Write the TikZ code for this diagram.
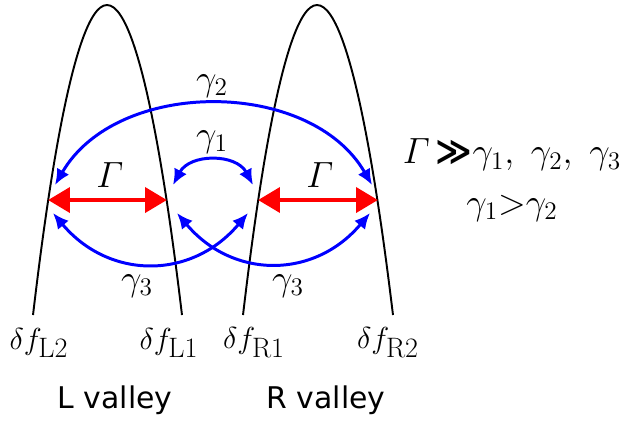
\documentclass[tikz,border=0pt]{standalone}
\usepackage{amsmath}
\usepackage{fontspec}
\newfontfamily\dejavu{DejaVu Sans}
\usetikzlibrary{arrows.meta}
\definecolor{cRate}{HTML}{0000FF}
\definecolor{cFast}{HTML}{FF0000}

\begin{document}
\begin{tikzpicture}[x=0.02cm,y=0.02cm,
  band/.style={black,line width=1.1pt},
  fast/.style={cFast,line width=2.8pt,
    {Triangle[length=12.5pt,width=14pt]}-{Triangle[length=12.5pt,width=14pt]}},
  slow/.style={cRate,line width=1.7pt,
    {Latex[length=9pt,width=8pt]}-{Latex[length=9pt,width=8pt]}},
  lab/.style={inner sep=1pt,font=\fontsize{20}{24}\selectfont},
  lev/.style={inner sep=1pt,font=\fontsize{16}{19}\selectfont},
  vname/.style={inner sep=1pt,font=\dejavu\fontsize{17}{20}\selectfont}]
\useasboundingbox (0,0) rectangle (621,424);

% --- the two valleys ---
\draw[band] (33,109) parabola bend (107,419) (182,109);
\draw[band] (243,109) parabola bend (317,419) (393,109);

% --- end points on the bands ---
\coordinate (fL2) at (48,224);  \coordinate (fL1) at (167,224);
\coordinate (fR1) at (258,224); \coordinate (fR2) at (378,224);
\coordinate (uL2) at (55,239);  \coordinate (uL1) at (173,239);
\coordinate (uR1) at (253,239); \coordinate (uR2) at (372,239);
\coordinate (dL2) at (53,211);  \coordinate (dL1) at (177,211);
\coordinate (dR1) at (248,211); \coordinate (dR2) at (370,211);

% --- intra-valley (fast) ---
\draw[fast] (fL2) -- (fL1);
\draw[fast] (fR1) -- (fR2);
\node[lab] (GL) at (110,249) {$\varGamma$};
\node[lab] (GR) at (320,249) {$\varGamma$};

% --- inter-valley (slow) ---
\draw[slow] (uL2) to[bend left=60] (uR2);
\draw[slow] (uL1) to[bend left=62,looseness=1.15] (uR1);
\draw[slow] (dL2) to[bend right=50,looseness=1.15] (dR1);
\draw[slow] (dL1) to[bend right=50,looseness=1.15] (dR2);
\node[lab] (g2) at (212,338) {$\gamma_2$};
\node[lab] (g1) at (212,282) {$\gamma_1$};
\node[lab] (g3a) at (137,138) {$\gamma_3$};
\node[lab] (g3b) at (288,138) {$\gamma_3$};

% --- level names ---
\node[lev] (nL2) at (39,81)  {$\delta f_{\textstyle\mathrm{L2}}$};
\node[lev] (nL1) at (169,81) {$\delta f_{\textstyle\mathrm{L1}}$};
\node[lev] (nR1) at (254,81) {$\delta f_{\textstyle\mathrm{R1}}$};
\node[lev] (nR2) at (388,81) {$\delta f_{\textstyle\mathrm{R2}}$};
\node[vname] (vL) at (115,24) {L valley};
\node[vname] (vR) at (326,24) {R valley};

% --- relations ---
\node[lab] (rel1) at (512,269)
  {$\varGamma$\,{\dejavu\bfseries ≫}$\gamma_1,\ \gamma_2,\ \gamma_3$};
\node[lab] (rel2) at (512,216) {$\gamma_1{>}\gamma_2$};
\end{tikzpicture}
\end{document}
